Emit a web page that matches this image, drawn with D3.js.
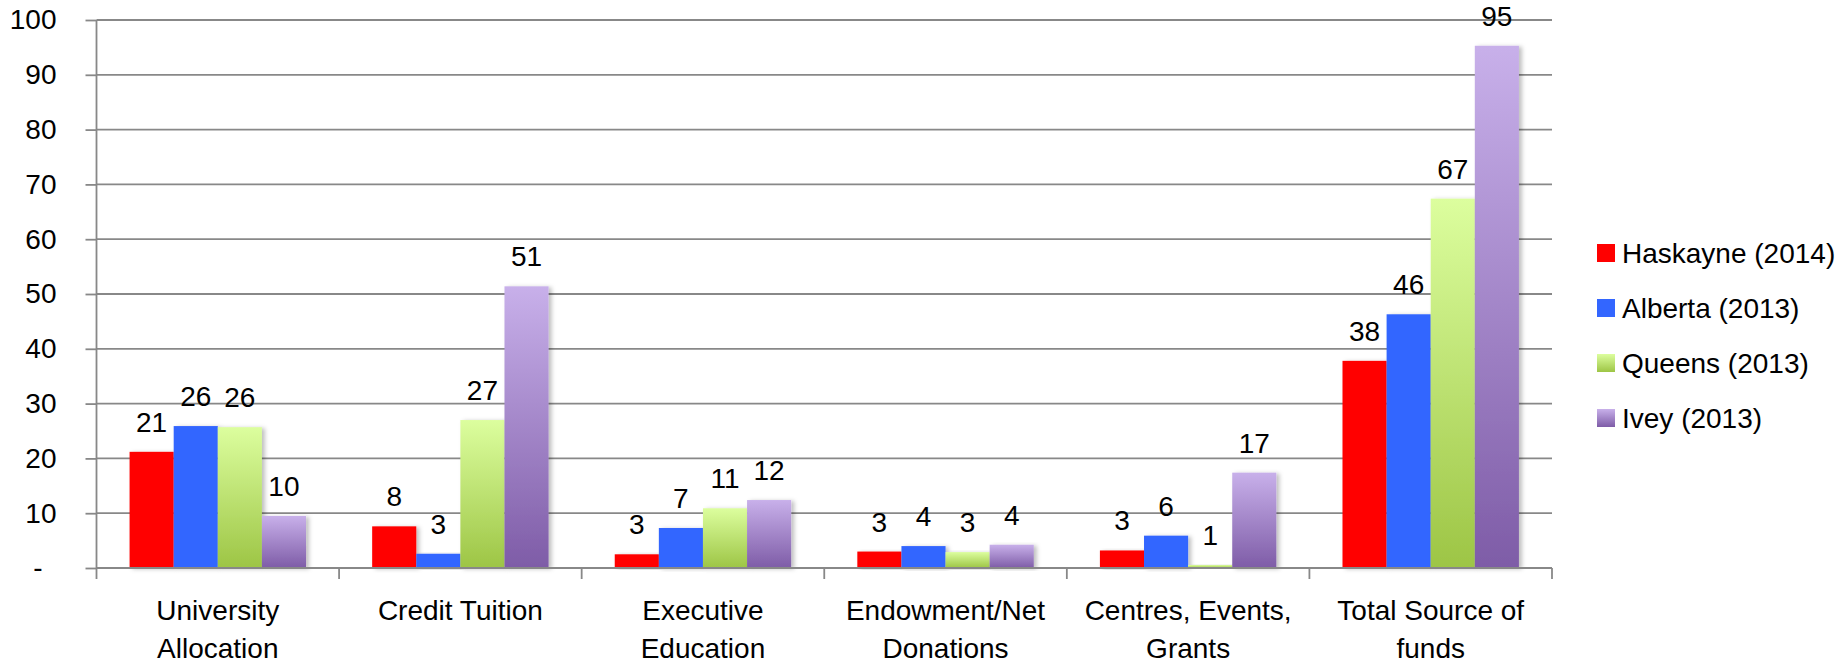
<!DOCTYPE html>
<html><head><meta charset="utf-8">
<script src="https://cdn.jsdelivr.net/npm/d3@7/dist/d3.min.js"></script>
<style>
html,body{margin:0;padding:0;background:#fff;}
svg text{font-family:"Liberation Sans",Arial,sans-serif;fill:#000;}
</style></head>
<body><svg id="c" width="1844" height="665"></svg>
<script>
const categories = [["University","Allocation"],["Credit Tuition"],["Executive","Education"],["Endowment/Net","Donations"],["Centres, Events,","Grants"],["Total Source of","funds"]];
const seriesNames = ["Haskayne (2014)","Alberta (2013)","Queens (2013)","Ivey (2013)"];
const haskayne = [21.2, 7.6, 2.5, 3.0, 3.2, 37.8];
const alberta  = [25.9, 2.6, 7.3, 4.0, 5.9, 46.3];
const queens   = [25.7, 27.0, 10.9, 2.9, 0.55, 67.4];
const ivey     = [9.5, 51.4, 12.4, 4.25, 17.4, 95.3];
const yTicks = [0,10,20,30,40,50,60,70,80,90,100];

const series = [haskayne, alberta, queens, ivey];
const svg = d3.select("#c");
const L = 96.5, R = 1552, T = 20, B = 568;
const FS = 28;

const defs = svg.append("defs");
const fills = ["#ff0000","#3366ff","url(#gGreen)","url(#gPurple)"];
const gg = defs.append("linearGradient").attr("id","gGreen").attr("x1",0).attr("y1",0).attr("x2",0).attr("y2",1);
gg.append("stop").attr("offset","0%").attr("stop-color","#dcfe9e");
gg.append("stop").attr("offset","100%").attr("stop-color","#9dc545");
const gp = defs.append("linearGradient").attr("id","gPurple").attr("x1",0).attr("y1",0).attr("x2",0).attr("y2",1);
gp.append("stop").attr("offset","0%").attr("stop-color","#c8b0ea");
gp.append("stop").attr("offset","100%").attr("stop-color","#7e5ca7");
const sh = defs.append("filter").attr("id","sh").attr("x","-10%").attr("y","-10%").attr("width","130%").attr("height","120%");
sh.append("feDropShadow").attr("dx",3).attr("dy",1).attr("stdDeviation",2).attr("flood-color","#000").attr("flood-opacity",0.25);

const x0 = d3.scaleBand().domain(d3.range(categories.length)).range([L,R]).paddingInner(0).paddingOuter(0);
const bw = x0.bandwidth()/5.5;
const x1 = d3.scaleBand().domain(d3.range(4)).range([0.75*bw, 4.75*bw]).padding(0);
const y = d3.scaleLinear().domain([0,100]).range([B,T]);

// gridlines
svg.append("g").selectAll("line").data(yTicks.filter(d=>d>0)).join("line")
  .attr("x1",L).attr("x2",R).attr("y1",d=>y(d)).attr("y2",d=>y(d))
  .attr("stroke","#888").attr("stroke-width",1.8);

// y axis
const ya = svg.append("g").attr("transform",`translate(${L},0)`)
  .call(d3.axisLeft(y).tickValues(yTicks).tickSize(11).tickPadding(29).tickFormat(d=>d===0?"-":d));
ya.select(".domain").attr("stroke","#888").attr("stroke-width",1.8).attr("d",`M0,${T}V${B}`);
ya.selectAll(".tick line").attr("stroke","#888").attr("stroke-width",1.8);
ya.selectAll(".tick text").attr("font-size",FS).attr("font-family","Liberation Sans, Arial, sans-serif").attr("fill","#000")
  .attr("dx",d=>d===0?-14:0);

// bars
const groups = svg.append("g").selectAll("g").data(categories.map((c,i)=>i)).join("g")
  .attr("transform",i=>`translate(${x0(i)},0)`);
groups.selectAll("rect").data(i=>series.map((s,k)=>({k, v:s[i]}))).join("rect")
  .attr("x",d=>x1(d.k)).attr("width",x1.bandwidth())
  .attr("y",d=>y(d.v)).attr("height",d=>B-y(d.v))
  .attr("fill",d=>fills[d.k]).attr("filter","url(#sh)");
groups.selectAll("text.v").data(i=>series.map((s,k)=>({k, v:s[i]}))).join("text").attr("class","v")
  .attr("x",d=>x1(d.k)+x1.bandwidth()/2).attr("y",d=>y(d.v)-20)
  .attr("text-anchor","middle").attr("font-size",FS).text(d=>Math.round(d.v));

// x axis
const xa = svg.append("g").attr("transform",`translate(0,${B})`);
xa.append("line").attr("x1",L).attr("x2",R).attr("stroke","#888").attr("stroke-width",1.8);
xa.selectAll("line.t").data(d3.range(categories.length+1)).join("line").attr("class","t")
  .attr("x1",i=>L+i*x0.bandwidth()).attr("x2",i=>L+i*x0.bandwidth()).attr("y1",0).attr("y2",11)
  .attr("stroke","#888").attr("stroke-width",1.8);
xa.selectAll("text.c").data(categories.map((c,i)=>i)).join("text").attr("class","c")
  .attr("x",i=>x0(i)+x0.bandwidth()/2).attr("y",52).attr("text-anchor","middle").attr("font-size",FS)
  .each(function(i){
    const t=d3.select(this);
    categories[i].forEach((ln,j)=>t.append("tspan").attr("x",x0(i)+x0.bandwidth()/2).attr("dy",j===0?0:38).text(ln));
  });

// legend
const leg = svg.append("g");
seriesNames.forEach((n,k)=>{
  const cy = 253 + k*55;
  leg.append("rect").attr("x",1597).attr("y",cy-9).attr("width",18).attr("height",18).attr("fill",fills[k]);
  leg.append("text").attr("x",1622).attr("y",cy+10).attr("font-size",FS).text(n);
});
</script></body></html>
